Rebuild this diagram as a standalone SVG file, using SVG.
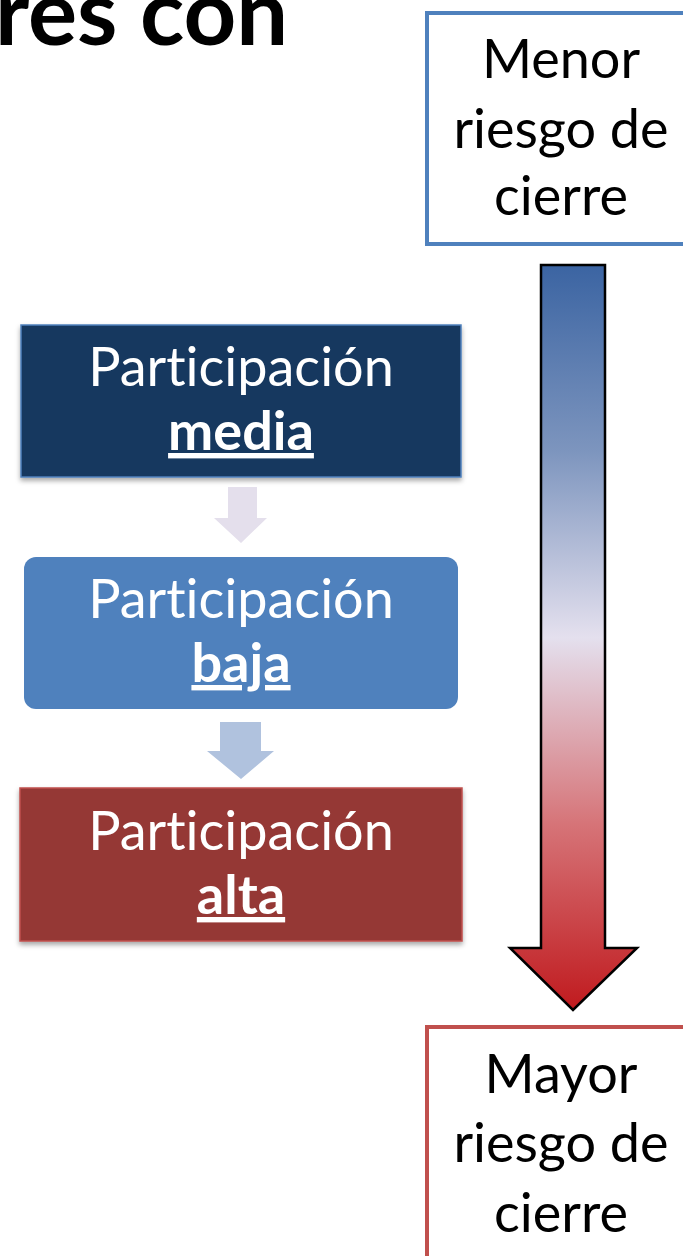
<svg xmlns="http://www.w3.org/2000/svg" width="683" height="1256" viewBox="0 0 683 1256">
<defs>
<style>
text{font-variant-ligatures:none;font-feature-settings:"liga" 0,"clig" 0}
.t{font-family:Lato,"Open Sans",sans-serif;font-size:54px;text-anchor:middle}
.w{fill:#fff}
.k{fill:#000}
.b{font-weight:bold;text-decoration:underline}
.box{stroke-width:1.5}
</style>
<linearGradient id="g" x1="0" y1="265" x2="0" y2="1010" gradientUnits="userSpaceOnUse">
<stop offset="0" stop-color="#3B64A2"/>
<stop offset="0.25" stop-color="#7D95BE"/>
<stop offset="0.5" stop-color="#E4E0EE"/>
<stop offset="0.75" stop-color="#D67478"/>
<stop offset="1" stop-color="#C01A1E"/>
</linearGradient>
<filter id="sh" x="-5%" y="-10%" width="110%" height="130%">
<feDropShadow dx="0" dy="3" stdDeviation="2.5" flood-color="#000" flood-opacity="0.35"/>
</filter>
</defs>
<rect width="683" height="1256" fill="#fff"/>
<g id="title">
<text x="-5" y="45" font-family="Lato,'Open Sans',sans-serif" font-size="92" font-weight="bold" fill="#000">res con</text>
</g>
<g id="menor">
<rect x="427" y="13" width="280" height="231" fill="#fff" stroke="#4F81BD" stroke-width="4"/>
<text class="t k" x="561" y="78">Menor</text>
<text class="t k" x="561" y="148">riesgo de</text>
<text class="t k" x="561" y="215">cierre</text>
</g>
<g id="mayor">
<rect x="427" y="1027" width="280" height="260" fill="#fff" stroke="#C0504D" stroke-width="4"/>
<text class="t k" x="561" y="1093">Mayor</text>
<text class="t k" x="561" y="1162">riesgo de</text>
<text class="t k" x="561" y="1232">cierre</text>
</g>
<g id="media">
<rect class="box" x="21" y="325" width="440" height="152" fill="#17375E" stroke="#4F81BD" filter="url(#sh)"/>
<text class="t w" x="241" y="386">Participación</text>
<text class="t w b" x="241" y="450">media</text>
</g>
<g id="baja">
<rect x="24" y="557" width="434" height="152" rx="12" fill="#4F81BD"/>
<text class="t w" x="241" y="618">Participación</text>
<text class="t w b" x="241" y="682">baja</text>
</g>
<g id="alta">
<rect class="box" x="20" y="788" width="442" height="153" fill="#953735" stroke="#C0504D" filter="url(#sh)"/>
<text class="t w" x="241" y="850">Participación</text>
<text class="t w b" x="241" y="914">alta</text>
</g>
<g id="connectors">
<path d="M228 487 H257 V518 H267 L241 543 L214 518 H228 Z" fill="#E4DFEC"/>
<path d="M220 722 H261 V751 H274 L241 779 L207 751 H220 Z" fill="#B0C2DE"/>
<path d="M541 265 H605 V948 H637 L573 1010 L510 948 H541 Z" fill="url(#g)" stroke="#000" stroke-width="2.5"/>
</g>
</svg>
